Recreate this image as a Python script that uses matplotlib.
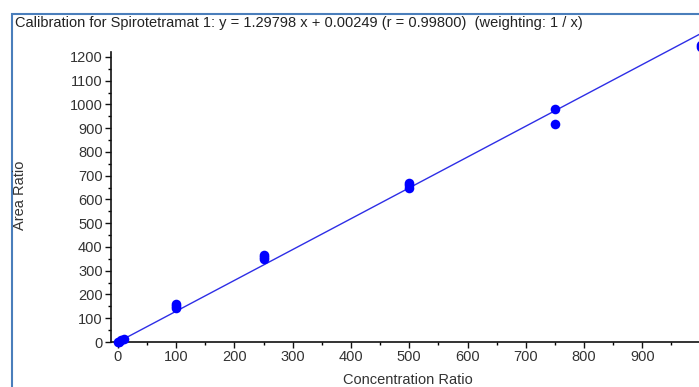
import matplotlib.pyplot as plt
import numpy as np
from matplotlib.patches import Rectangle
from matplotlib.ticker import MultipleLocator

# calibration points
conc = [0.5, 1, 5, 10, 100, 100, 100, 250, 250, 250, 500, 500, 500, 750, 750, 1000, 1000]
area = [1, 1.5, 7, 13, 158, 150, 145, 365, 350, 356, 650, 660, 670, 980, 917, 1250, 1242]

slope = 1.29798
intercept = 0.00249
title = "Calibration for Spirotetramat 1: y = 1.29798 x + 0.00249 (r = 0.99800)  (weighting: 1 / x)"

plt.rcParams['font.family'] = ['Liberation Sans', 'DejaVu Sans']

fig = plt.figure(figsize=(6.99, 3.87), dpi=100)
W, H = 699, 387

# blue frame around the chart (runs off the right and bottom edges)
fig.patches.append(Rectangle((12 / W, -0.05), 1.1, 1 - 14 / H + 0.05,
                             transform=fig.transFigure, fill=False,
                             edgecolor='#4a7ebb', linewidth=1.5))
fig.text(15 / W, 1 - 23 / H, title, fontsize=10.5, va='center', ha='left', color='#222222')

ax = fig.add_axes([111 / W, 45 / H, (W - 111) / W, 290 / H])
ax.set_xlim(-12, 997.4)
ax.set_ylim(0, 1221)

xs = np.array([0, 1000])
ax.plot(xs, slope * xs + intercept, color='#2e2ee6', linewidth=1.0, clip_on=False, zorder=2)
ax.scatter(conc, area, s=48, color='#0000ff', clip_on=False, zorder=3, linewidths=0)

for side in ['top', 'right']:
    ax.spines[side].set_visible(False)
for side in ['left', 'bottom']:
    ax.spines[side].set_linewidth(1.2)
    ax.spines[side].set_color('#111111')

ax.xaxis.set_major_locator(MultipleLocator(100))
ax.xaxis.set_minor_locator(MultipleLocator(50))
ax.yaxis.set_major_locator(MultipleLocator(100))
ax.yaxis.set_minor_locator(MultipleLocator(50))
ax.tick_params(which='major', direction='out', length=4, width=1, labelsize=10.5, colors='#111111')
ax.tick_params(which='minor', direction='out', length=2, width=1)
ax.tick_params(axis='x', labelcolor='#333333', pad=2)
ax.tick_params(axis='y', labelcolor='#333333', pad=2)
ax.set_xticks(range(0, 1000, 100))

fig.text(408 / W, 1 - 380 / H, "Concentration Ratio", fontsize=10.5, ha='center', va='center', color='#333333')
fig.text(20 / W, 1 - 195 / H, "Area Ratio", fontsize=10.5, ha='center', va='center', rotation=90, color='#333333')

fig.savefig("out.png", dpi=100)
